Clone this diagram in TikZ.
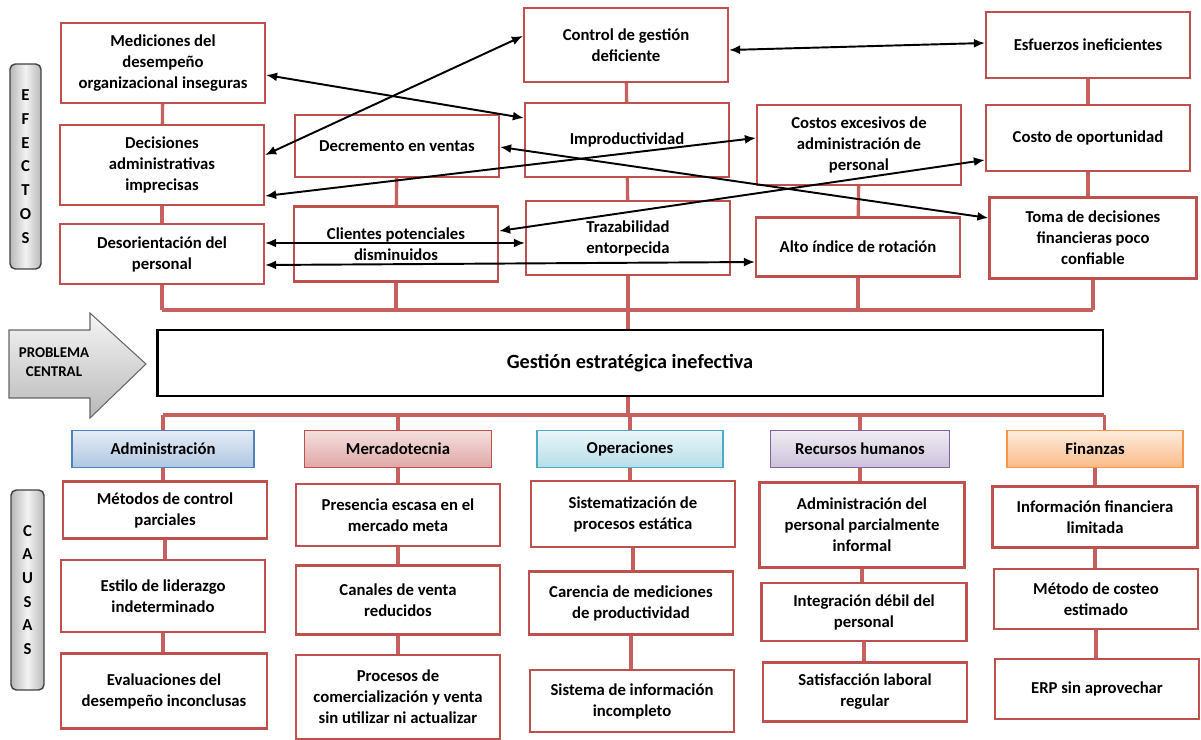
\documentclass[tikz,border=0pt]{standalone}
\usepackage{fontspec}
\setmainfont{Carlito}
\usetikzlibrary{arrows.meta,calc}

\definecolor{boxred}{HTML}{C0504D}
\definecolor{admline}{HTML}{4F81BD}
\definecolor{mktline}{HTML}{C0504D}
\definecolor{opeline}{HTML}{4BACC6}
\definecolor{rhline}{HTML}{8064A2}
\definecolor{finline}{HTML}{F79646}

\begin{document}
\begin{tikzpicture}[x=0.02cm,y=-0.02cm,
    every node/.style={font=\fontsize{9.5}{12}\selectfont\bfseries, align=center},
    caja/.style={draw=boxred, line width=1.3pt, fill=white, minimum width=4.08cm, inner sep=2pt},
    area/.style n args={3}{draw=#1, line width=0.9pt, top color=#2, bottom color=#3, minimum height=0.74cm, inner sep=2pt},
    lado/.style={draw=black!75, line width=0.8pt, rounded corners=3pt, left color=gray!55, right color=gray!55, middle color=gray!10, font=\fontsize{9.5}{13.5}\selectfont\bfseries},
    enlace/.style={draw=boxred!90, line width=1.9pt},
    flecha/.style={{Latex[length=2.2mm,width=1.8mm]}-{Latex[length=2.2mm,width=1.8mm]}, line width=1.1pt}]
  \useasboundingbox (0,0) rectangle (1201,740);

  % efectos
  \node[caja, minimum height=1.6cm] (med) at (163,63) {Mediciones del\\desempeño\\organizacional inseguras};
  \node[caja, minimum height=1.6cm] (dec) at (162,165) {Decisiones\\administrativas\\imprecisas};
  \node[caja, minimum height=1.2cm] (des) at (162,254) {Desorientación del\\personal};
  \node[caja, minimum height=1.24cm] (vtas) at (397,146) {Decremento en ventas};
  \node[caja, minimum height=1.5cm] (cli) at (396,244) {Clientes potenciales\\disminuidos};
  \node[caja, minimum height=1.48cm] (ctrl) at (626,45) {Control de gestión\\deficiente};
  \node[caja, minimum height=1.48cm] (imp) at (627,140) {Improductividad};
  \node[caja, minimum height=1.48cm] (traz) at (628,238) {Trazabilidad\\entorpecida};
  \node[caja, minimum height=1.6cm] (cost) at (859,145) {Costos excesivos de\\administración de\\personal};
  \node[caja, minimum height=1.18cm] (rot) at (858,247) {Alto índice de rotación};
  \node[caja, minimum height=1.32cm] (esf) at (1088,45) {Esfuerzos ineficientes};
  \node[caja, minimum height=1.32cm] (opo) at (1088,138) {Costo de oportunidad};
  \node[caja, minimum height=1.62cm, minimum width=4.14cm] (toma) at (1093,238) {Toma de decisiones\\financieras poco\\confiable};

  % problema central
  \node[draw=black, line width=1.6pt, fill=white, minimum width=18.92cm, minimum height=1.32cm,
        font=\fontsize{11.5}{14}\selectfont\bfseries] (core) at (630,363) {Gestión estratégica inefectiva};
  \coordinate (topbus) at (628,310);
  \coordinate (botbus) at (628,415);

  % areas
  \node[area={admline}{admline!15}{admline!45}, minimum width=3.64cm] (adm) at (163,449) {Administración};
  \node[area={mktline}{mktline!18}{mktline!50}, minimum width=3.74cm] (mkt) at (398,449) {Mercadotecnia};
  \node[area={opeline}{opeline!12}{opeline!40}, minimum width=3.72cm] (ope) at (630,449) {Operaciones};
  \node[area={rhline}{rhline!12}{rhline!40}, minimum width=3.58cm] (rh) at (860,449) {Recursos humanos};
  \node[area={finline}{finline!18}{finline!65}, minimum width=3.52cm] (fin) at (1095,449) {Finanzas};

  % causas
  \node[caja, minimum height=1.14cm] (c11) at (165,510) {Métodos de control\\parciales};
  \node[caja, minimum height=1.44cm] (c12) at (163,596) {Estilo de liderazgo\\indeterminado};
  \node[caja, minimum height=1.5cm, minimum width=4.12cm] (c13) at (164,691) {Evaluaciones del\\desempeño inconclusas};
  \node[caja, minimum height=1.24cm] (c21) at (398,515) {Presencia escasa en el\\mercado meta};
  \node[caja, minimum height=1.38cm] (c22) at (398,600) {Canales de venta\\reducidos};
  \node[caja, minimum height=1.68cm] (c23) at (398,697) {Procesos de\\comercialización y venta\\sin utilizar ni actualizar};
  \node[caja, minimum height=1.32cm] (c31) at (633,514) {Sistematización de\\procesos estática};
  \node[caja, minimum height=1.26cm] (c32) at (631,603) {Carencia de mediciones\\de productividad};
  \node[caja, minimum height=1.24cm] (c33) at (632,701) {Sistema de información\\incompleto};
  \node[caja, minimum height=1.7cm, minimum width=4.1cm] (c41) at (862,525) {Administración del\\personal parcialmente\\informal};
  \node[caja, minimum height=1.16cm, minimum width=4.1cm] (c42) at (864,612) {Integración débil del\\personal};
  \node[caja, minimum height=1.18cm] (c43) at (865,692) {Satisfacción laboral\\regular};
  \node[caja, minimum height=1.22cm, minimum width=4.1cm] (c51) at (1095,517) {Información financiera\\limitada};
  \node[caja, minimum height=1.2cm] (c52) at (1096,599) {Método de costeo\\estimado};
  \node[caja, minimum height=1.2cm] (c53) at (1097,689) {ERP sin aprovechar};

  % etiquetas laterales
  \node[lado, minimum width=0.62cm, minimum height=4.1cm] (efe) at (25.5,166.5) {E\\F\\E\\C\\T\\O\\S};
  \node[lado, minimum width=0.66cm, minimum height=4cm] (cau) at (27.5,590) {C\\A\\U\\S\\A\\S};
  \shadedraw[top color=gray!8, bottom color=gray!55, draw=black!60, line width=0.6pt]
    (9,330) -- (90,330) -- (90,313) -- (146,364) -- (90,418) -- (90,398) -- (9,398) -- cycle;
  \node[font=\fontsize{8.5}{10.5}\selectfont\bfseries] (pc) at (54,362) {PROBLEMA\\CENTRAL};

  % enlaces de efectos
  \draw[enlace] (med) -- (dec);
  \draw[enlace] (dec) -- (des);
  \draw[enlace] (vtas) -- (cli);
  \draw[enlace] (ctrl) -- (imp);
  \draw[enlace] (imp) -- (traz);
  \draw[enlace] (cost) -- (rot);
  \draw[enlace] (esf) -- (opo);
  \draw[enlace] (opo.south) -- (opo.south |- toma.north);
  \foreach \n in {des,cli,traz,rot,toma} {
    \draw[enlace] (\n.south) -- (\n.south |- topbus);
  }
  \draw[enlace] (des.south |- topbus) -- (toma.south |- topbus);
  \draw[enlace] (topbus) -- (topbus |- core.north);

  % enlaces de causas
  \draw[enlace] (botbus |- core.south) -- (botbus);
  \draw[enlace] (adm.north |- botbus) -- (core.south east |- botbus);
  \foreach \n in {adm,mkt,ope,rh} {
    \draw[enlace] (\n.north |- botbus) -- (\n.north);
  }
  \draw[enlace] (core.south east |- botbus) -- (core.south east |- fin.north);
  \foreach \a/\b in {adm/c11,c11/c12,c12/c13,mkt/c21,c21/c22,c22/c23,ope/c31,c31/c32,c32/c33,rh/c41,c41/c42,c42/c43,fin/c51,c51/c52,c52/c53} {
    \draw[enlace] (\a.south) -- (\a.south |- \b.north);
  }

  % relaciones entre efectos
  \draw[flecha] ($(med.east)+(0,12)$) -- ($(imp.west)+(0,-22)$);
  \draw[flecha] ($(dec.east)+(0,-10)$) -- ($(ctrl.west)+(0,-9)$);
  \draw[flecha] ($(ctrl.east)+(0,5)$) -- ($(esf.west)+(0,-2)$);
  \draw[flecha] ($(dec.east)+(0,31)$) -- ($(cost.west)+(0,-7)$);
  \draw[flecha] ($(vtas.east)+(0,1)$) -- ($(toma.west)+(0,-20)$);
  \draw[flecha] ($(cli.east)+(0,-13)$) -- ($(opo.west)+(0,22)$);
  \draw[flecha] ($(des.east)+(0,-11)$) -- ($(traz.west)+(0,5)$);
  \draw[flecha] ($(des.east)+(0,11)$) -- ($(rot.west)+(0,15)$);
\end{tikzpicture}
\end{document}
